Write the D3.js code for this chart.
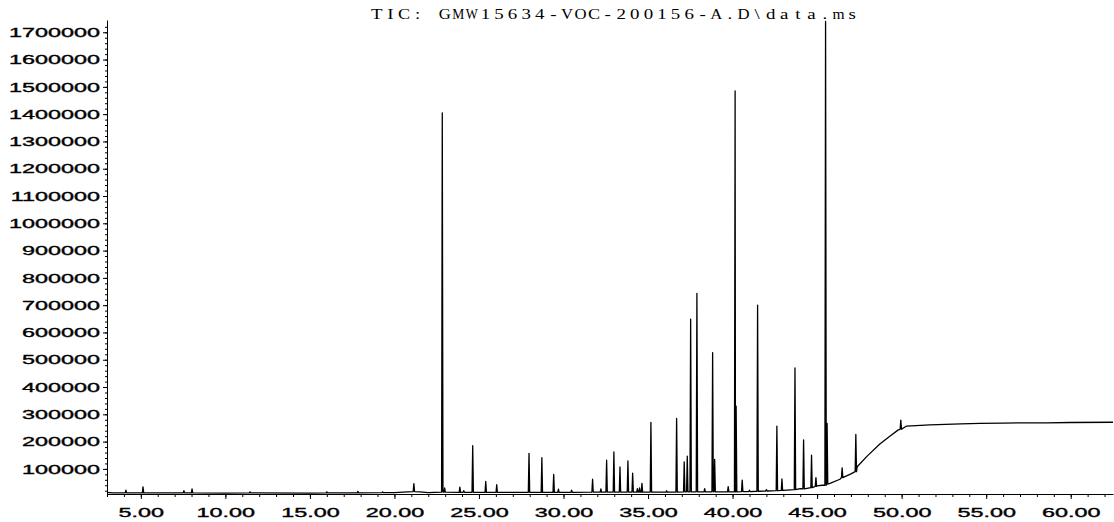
<!DOCTYPE html>
<html>
<head>
<meta charset="utf-8">
<script src="https://cdn.jsdelivr.net/npm/d3@7"></script>
<style>
  body { margin: 0; background: #fff; }
  svg { display: block; }
  .axis path, .axis line { stroke: #000; }
  .axis text { font-family: "Liberation Sans", Arial, sans-serif; font-size: 13px; fill: #000; stroke: #000; stroke-width: 0.35px; }
</style>
</head>
<body>
<svg width="1114" height="522"></svg>
<script>
// Title of the run
const title = "TIC: GMW15634-VOC-200156-A.D\\data.ms";

// Peaks: retention time (min), apex abundance, abundance at the foot of the peak
const peakRt   = [4.12, 5.13, 7.55, 8.03, 11.46, 16.0, 17.84, 19.3, 21.15, 22.83, 22.97, 23.87, 24.1, 24.63, 25.4, 26.05,
                  27.96, 28.72, 29.42, 29.7, 30.48, 31.72, 32.21, 32.55, 32.98, 33.34, 33.81, 34.09, 34.37, 34.5, 34.64,
                  35.17, 36.1, 36.69, 37.14, 37.32, 37.52, 37.89, 38.35, 38.82, 38.94, 39.74, 40.15, 40.21, 40.57, 41.0,
                  41.48, 42.0, 42.62, 42.92, 43.69, 44.2, 44.67, 44.93, 45.5, 45.59, 46.48, 47.29, 49.95];
const peakApex = [22000, 34000, 20000, 27000, 16000, 16000, 18000, 16000, 46000, 1405000, 30000, 33000, 20000, 185000, 54000, 42000,
                  157000, 141000, 80000, 26000, 22000, 62000, 27000, 132000, 162000, 107000, 129000, 84000, 28000, 30000, 47000,
                  270000, 20000, 285000, 126000, 147000, 649000, 743000, 28000, 526000, 135000, 35000, 1485000, 330000, 59000, 22000,
                  700000, 24000, 257000, 63000, 470000, 206000, 150000, 68000, 1740000, 267000, 104000, 226000, 279000];
const peakBase = [12000, 12000, 12000, 12000, 12000, 12000, 12000, 13000, 17000, 15000, 15000, 14000, 14000, 14000, 14000, 14000,
                  14000, 14000, 14000, 14000, 14000, 15000, 15000, 15000, 15000, 15000, 15000, 15000, 15000, 15000, 15000,
                  15000, 15000, 15000, 16000, 16000, 16000, 16000, 16000, 16000, 16000, 16000, 16000, 16000, 17000, 17000,
                  18000, 19000, 20000, 21000, 24000, 27000, 31000, 36000, 40000, 44000, 68000, 90000, 245000];

// Baseline between peaks: retention time (min) and abundance
const baseRt    = [3.0, 3.3, 5.0, 10.0, 15.0, 20.0, 20.8, 21.5, 22.0, 25.0, 30.0, 35.0, 38.0, 40.0, 42.0, 43.0, 44.0, 45.0, 45.3,
                   45.76, 46.35, 47.0, 47.37, 47.93, 48.71, 49.3, 49.8, 50.29, 51.67, 53.5, 54.63, 56.0, 58.57, 60.0, 62.5];
const baseLevel = [14000, 12000, 12000, 11000, 11500, 13000, 16000, 16000, 13000, 14000, 14000, 15000, 16000, 16000, 19000, 21000, 28000, 38000, 40000,
                   47000, 62000, 82000, 108000, 145000, 191000, 220000, 243000, 257000, 261000, 265000, 267000, 268000, 269000, 270000, 271000];

// Axis ticks
const xTicks = [5, 10, 15, 20, 25, 30, 35, 40, 45, 50, 55, 60];
const xMinor = d3.range(3, 63, 1);
const yTicks = [100000, 200000, 300000, 400000, 500000, 600000, 700000, 800000, 900000, 1000000,
                1100000, 1200000, 1300000, 1400000, 1500000, 1600000, 1700000];
const yMinor = d3.range(20000, 1740000, 20000);

const svg = d3.select("svg");
const halfW = 0.04;     // half width of a peak, in minutes
const stretch = 1.8;    // horizontal stretch of the printed labels

// Scales
let x = d3.scaleLinear().domain([3.0, 62.5]).range([107, 1113]);
let y = d3.scaleLinear().domain([8000, 1745000]).range([494, 20]);

// Build the trace from baseline points and peaks
let pts = [];
baseRt.forEach(function(t, i) {
  let inPeak = peakRt.some(p => Math.abs(p - t) <= halfW);
  if (!inPeak) pts.push([t, baseLevel[i]]);
});
peakRt.forEach(function(t, i) {
  pts.push([t - halfW, peakBase[i]]);
  pts.push([t, peakApex[i]]);
  pts.push([t + halfW, peakBase[i]]);
});
pts.sort((a, b) => a[0] - b[0]);

// X axis: minor then major ticks
svg.append("g")
    .attr("class", "axis")
    .attr("transform", "translate(0,494)")
    .call(d3.axisBottom(x).tickValues(xMinor).tickSize(3).tickSizeOuter(0).tickFormat(""));

let xAxis = svg.append("g")
    .attr("class", "axis")
    .attr("transform", "translate(0,494)")
    .call(d3.axisBottom(x).tickValues(xTicks).tickSize(5).tickSizeOuter(0).tickFormat(d3.format(".2f")));
xAxis.select(".domain").remove();
xAxis.selectAll("text")
    .attr("y", 23)
    .attr("dy", null)
    .attr("transform", "scale(" + stretch + ",1)");

// Y axis: minor then major ticks
svg.append("g")
    .attr("class", "axis")
    .attr("transform", "translate(107,0)")
    .call(d3.axisLeft(y).tickValues(yMinor).tickSize(2).tickSizeOuter(0).tickFormat(""));

let yAxis = svg.append("g")
    .attr("class", "axis")
    .attr("transform", "translate(107,0)")
    .call(d3.axisLeft(y).tickValues(yTicks).tickSize(4).tickSizeOuter(0).tickFormat(d3.format("d")));
yAxis.select(".domain").remove();
yAxis.selectAll("text")
    .attr("x", -7 / stretch)
    .attr("transform", "scale(" + stretch + ",1)");

// The chromatogram trace
let line = d3.line()
    .x(d => x(d[0]))
    .y(d => y(d[1]));

svg.append("path")
    .datum(pts)
    .attr("fill", "none")
    .attr("stroke", "#000")
    .attr("stroke-width", 1.3)
    .attr("stroke-linejoin", "round")
    .attr("d", line);

// Title, one character per fixed-width cell, each glyph widened to fill its cell
const cell = 13.58;
let chars = svg.append("g")
    .selectAll("text")
    .data(title.split(""))
    .join("text")
    .attr("text-anchor", "middle")
    .style("font-family", "'Liberation Serif', 'Times New Roman', serif")
    .style("font-size", "14px")
    .style("fill", "#000")
    .text(d => d);

chars.attr("transform", function(d, i) {
  let w = this.getComputedTextLength() || 1;
  let s = Math.min(1.35, (cell - 1.5) / w);
  return "translate(" + (370 + cell * i + cell / 2) + ",19) scale(" + s + ",1)";
});
</script>
</body>
</html>
